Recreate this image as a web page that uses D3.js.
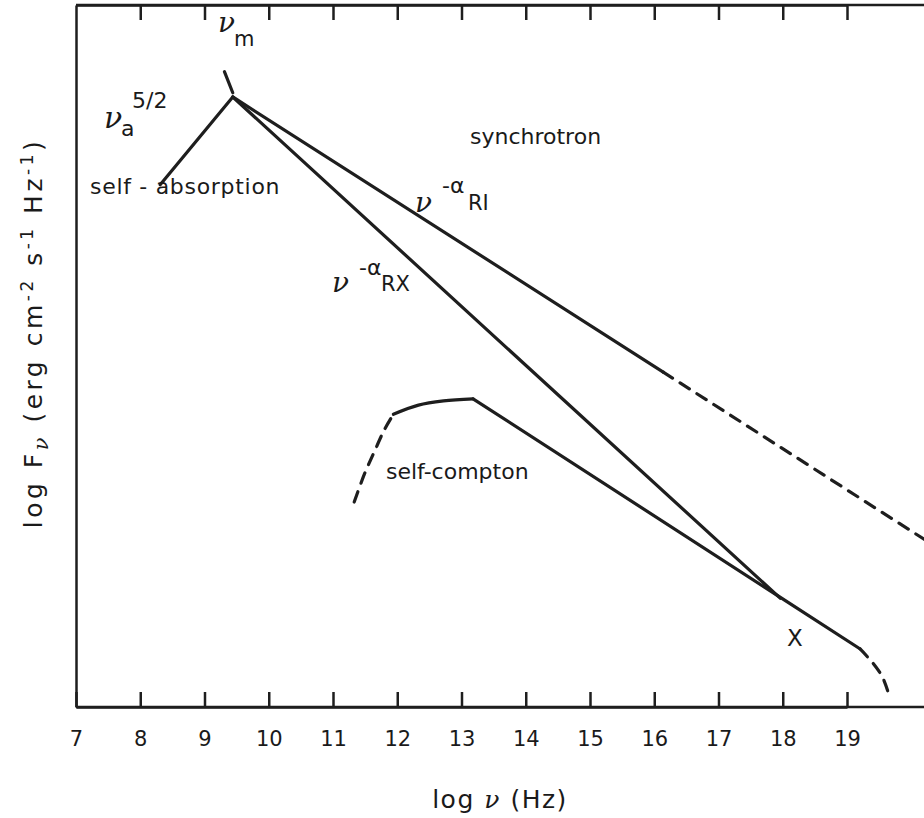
<!DOCTYPE html>
<html><head><meta charset="utf-8">
<script src="https://cdn.jsdelivr.net/npm/d3@7"></script>
<style>
body{margin:0;background:#fff;}
text{font-family:"DejaVu Sans",sans-serif;fill:#1a1a1a;}
</style></head>
<body><svg id="c" width="924" height="818"></svg>
<script>
// x: log nu (Hz); y: log F_nu in arbitrary units (no y tick labels in the original)
const xTicks = [7,8,9,10,11,12,13,14,15,16,17,18,19];
const selfAbsorption = [[8.31,74.4],[9.44,86.9]];
const synchRISolid = [[9.44,86.9],[16.14,47.7]];
const synchRIDashed = [[16.14,47.7],[20.25,23.6]];
const synchRX = [[9.44,86.9],[17.96,15.5]];
const comptonLowDashed = [[11.33,29.2],[11.49,33.2],[11.64,36.3],[11.80,39.5],[11.94,41.7]];
const comptonPeak = [[11.94,41.7],[12.33,43.0],[12.72,43.6],[13.18,43.9]];
const comptonSlope = [[13.18,43.9],[19.2,8.3]];
const comptonHighDashed = [[19.2,8.3],[19.39,6.4],[19.55,4.3],[19.64,2.1]];
const numAnchor = [[9.31,90.5],[9.44,87.5]]; // pointer from nu_m label to break

const svg = d3.select("#c");
const x = d3.scaleLinear().domain([7,19]).range([76,847]);
const y = d3.scaleLinear().domain([0,100]).range([707,5]);
const ink = "#1e1e1e";

// frame & axes
const gB = svg.append("g").attr("transform","translate(0,707)")
  .call(d3.axisBottom(x).tickValues(xTicks).tickSizeInner(-15).tickSizeOuter(0).tickPadding(24).tickFormat(d3.format("d")));
const gT = svg.append("g").attr("transform","translate(0,5)")
  .call(d3.axisTop(x).tickValues(xTicks.slice(1)).tickSizeInner(-15).tickSizeOuter(0).tickFormat(""));
const gL = svg.append("g").attr("transform","translate(76,0)")
  .call(d3.axisLeft(y).tickValues([]).tickSizeOuter(0));
[gB,gT,gL].forEach(g=>{
  g.select(".domain").attr("stroke",ink).attr("stroke-width",2.5);
  g.selectAll(".tick line").attr("stroke",ink).attr("stroke-width",2.5);
  g.selectAll(".tick text").style("font-size","21px").style("font-family","'DejaVu Sans',sans-serif").attr("fill",ink);
});
// extend frame lines to the right edge (original is cropped there)
svg.append("line").attr("x1",x(7)).attr("x2",924).attr("y1",707).attr("y2",707).attr("stroke",ink).attr("stroke-width",2.5);
svg.append("line").attr("x1",x(7)).attr("x2",924).attr("y1",5).attr("y2",5).attr("stroke",ink).attr("stroke-width",2.5);
gB.select(".tick:first-child line").remove();

const line = d3.line().x(d=>x(d[0])).y(d=>y(d[1]));
const curve = d3.line().x(d=>x(d[0])).y(d=>y(d[1])).curve(d3.curveCatmullRom);
function draw(data, gen, dashed){
  svg.append("path").datum(data).attr("d",gen).attr("fill","none")
    .attr("stroke",ink).attr("stroke-width",3.2).attr("stroke-linecap","round")
    .attr("stroke-dasharray",dashed?"11,9":null);
}
draw(selfAbsorption,line,false);
draw(synchRISolid,line,false);
draw(synchRIDashed,line,true);
draw(synchRX,line,false);
draw(comptonLowDashed,curve,true);
draw(comptonPeak,curve,false);
draw(comptonSlope,line,false);
draw(comptonHighDashed,curve,true);
draw(numAnchor,line,false);

// labels
function lab(px,py,size){ return svg.append("text").attr("x",px).attr("y",py).style("font-size",size+"px"); }
const nuStyle = t=>t.style("font-family","'DejaVu Serif',serif").style("font-style","italic");
// nu_m
nuStyle(lab(218,32,28).text("ν"));
lab(234,46,21).text("m");
// nu_a^{5/2}
nuStyle(lab(104,128,30).text("ν"));
lab(121,136,22).text("a");
lab(132,108,22).text("5/2");
lab(90,194,22).style("letter-spacing","0.7px").text("self - absorption");
lab(470,144,22).text("synchrotron");
// nu^-alpha_RI
nuStyle(lab(415,212,28).text("ν"));
lab(442,193,22).text("-α");
lab(468,210,21).text("RI");
// nu^-alpha_RX
nuStyle(lab(332,292,28).text("ν"));
lab(359,275,22).text("-α");
lab(381,291,21).text("RX");
lab(386,479,22).text("self-compton");
lab(787,646,23).text("X");

// axis titles
const xt = svg.append("text").attr("x",500).attr("y",808).attr("text-anchor","middle")
  .style("font-size","25px").style("letter-spacing","1.5px");
xt.append("tspan").text("log ");
nuStyle(xt.append("tspan").text("ν"));
xt.append("tspan").text(" (Hz)");

const yt = svg.append("text").attr("transform","translate(42,333) rotate(-90)").attr("text-anchor","middle")
  .style("font-size","25px").style("letter-spacing","3.5px");
yt.append("tspan").text("log  F");
nuStyle(yt.append("tspan").attr("dy",6).style("font-size","21px").text("ν"));
yt.append("tspan").attr("dy",-6).text(" (erg cm");
yt.append("tspan").attr("dy",-9).style("font-size","17px").text("-2");
yt.append("tspan").attr("dy",9).text(" s");
yt.append("tspan").attr("dy",-9).style("font-size","17px").text("-1");
yt.append("tspan").attr("dy",9).text(" Hz");
yt.append("tspan").attr("dy",-9).style("font-size","17px").text("-1");
yt.append("tspan").attr("dy",9).text(")");
</script></body></html>
